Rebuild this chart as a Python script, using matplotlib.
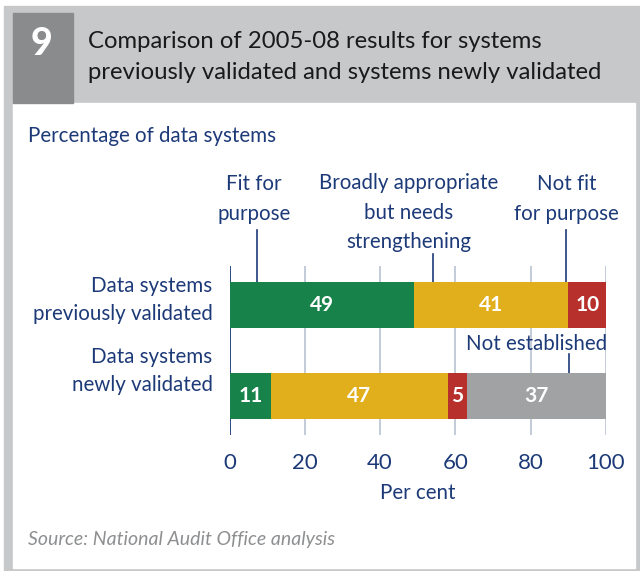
import matplotlib
matplotlib.use("Agg")
import matplotlib.pyplot as plt
from matplotlib.patches import Rectangle
import numpy as np

# Figure 9 data: percentage of data systems by assessment outcome
groups = ["Data systems\npreviously validated", "Data systems\nnewly validated"]
outcomes = ["Fit for purpose", "Broadly appropriate but needs strengthening",
            "Not fit for purpose", "Not established"]
previously = [49, 41, 10, 0]
newly = [11, 47, 5, 37]
ticks = [0, 20, 40, 60, 80, 100]

W, H = 640, 571
NAVY = "#1d3a78"
colours = ["#17834a", "#e0af1b", "#b7302c", "#a1a2a4"]
FONT = "Lato"
BODY = 14.8


def fx(x):
    return x / W


def fy(y):
    return 1 - y / H


fig = plt.figure(figsize=(W / 100, H / 100), dpi=100)
fig.patch.set_facecolor("white")

# frame: grey border, header band, number box, white panel
fig.add_artist(Rectangle((fx(4), fy(571)), fx(636), 565 / H,
                         transform=fig.transFigure, color="#c7c8ca", zorder=-2))
fig.add_artist(Rectangle((fx(13), fy(568)), fx(622), 465 / H,
                         transform=fig.transFigure, color="white", zorder=-1))
fig.add_artist(Rectangle((fx(13), fy(103)), fx(60), 90 / H,
                         transform=fig.transFigure, color="#8a8b8d", zorder=-1))

fig.text(fx(41), fy(55), "9", color="white", fontsize=27, fontweight="black",
         family=FONT, ha="center", va="baseline")
fig.text(fx(88), fy(48), "Comparison of 2005-08 results for systems",
         fontsize=17.2, family=FONT, color="#1a1a1a", va="baseline")
fig.text(fx(88), fy(79), "previously validated and systems newly validated",
         fontsize=17.2, family=FONT, color="#1a1a1a", va="baseline")

fig.text(fx(28), fy(142), "Percentage of data systems", fontsize=BODY,
         family=FONT, color=NAVY, va="baseline")

# chart axes: x from 0 to 100, bars centred on 0 and 1
ax = fig.add_axes([fx(229.5), fy(435), (606 - 229.5) / W, (435 - 266) / H])
ax.set_zorder(2)
ax.set_xlim(0, 100)
ax.set_ylim(1.4286, -0.4286)
ax.patch.set_alpha(0)

y_pos = np.arange(len(groups))
data = np.array([previously, newly])
left = np.zeros(len(groups))
for i, c in enumerate(colours):
    vals = data[:, i]
    ax.barh(y_pos, vals, left=left, height=0.505, color=c, zorder=3)
    for j, v in enumerate(vals):
        if v > 0:
            ax.text(left[j] + v / 2, y_pos[j], str(v), color="white",
                    fontsize=15, fontweight="bold", family=FONT,
                    ha="center", va="center", zorder=4)
    left += vals

for t in ticks[1:]:
    ax.axvline(t, color="#b3bdd0", lw=1.1, zorder=1)
ax.axvline(0, color=NAVY, lw=1.3, zorder=2)

for s in ax.spines.values():
    s.set_visible(False)
ax.set_yticks([])
ax.set_xticks(ticks)
ax.tick_params(axis="x", length=0, pad=13, labelsize=16, labelcolor=NAVY)
for lbl in ax.get_xticklabels():
    lbl.set_family(FONT)
ax.set_xlabel("Per cent", fontsize=BODY, family=FONT, color=NAVY, labelpad=7)

# group labels to the left of the bars, sitting slightly above each bar
label_shift = [-0.05, -0.28]
for j, g in enumerate(groups):
    ax.text(-0.045, y_pos[j] + label_shift[j], g,
            transform=ax.get_yaxis_transform(), ha="right", va="center",
            fontsize=BODY, family=FONT, color=NAVY, linespacing=1.5)

# outcome call-outs with leader lines
leaders = [(7.3, -0.82), (54.0, -0.56), (89.4, -0.82)]
for xl, ytop in leaders:
    ax.plot([xl, xl], [-0.2525, ytop], color=NAVY, lw=1.2,
            clip_on=False, zorder=2)
ax.text(6.5, -0.895, "Fit for\npurpose", ha="center", va="bottom",
        fontsize=BODY, family=FONT, color=NAVY, linespacing=1.6)
ax.text(47.5, -0.58, "Broadly appropriate\nbut needs\nstrengthening",
        ha="center", va="bottom", fontsize=BODY, family=FONT, color=NAVY,
        linespacing=1.6)
ax.text(89.6, -0.895, "Not fit\nfor purpose", ha="center", va="bottom",
        fontsize=BODY, family=FONT, color=NAVY, linespacing=1.6)

ax.plot([90.1, 90.1], [1 - 0.2525, 0.54], color=NAVY, lw=1.2,
        clip_on=False, zorder=2)
ax.text(100.3, 0.495, "Not established", ha="right", va="baseline",
        fontsize=BODY, family=FONT, color=NAVY)

fig.text(fx(28), fy(545), "Source: National Audit Office analysis",
         fontsize=14, family=FONT, style="italic", color="#8e8f91",
         va="baseline")

fig.savefig("out.png", dpi=100)
